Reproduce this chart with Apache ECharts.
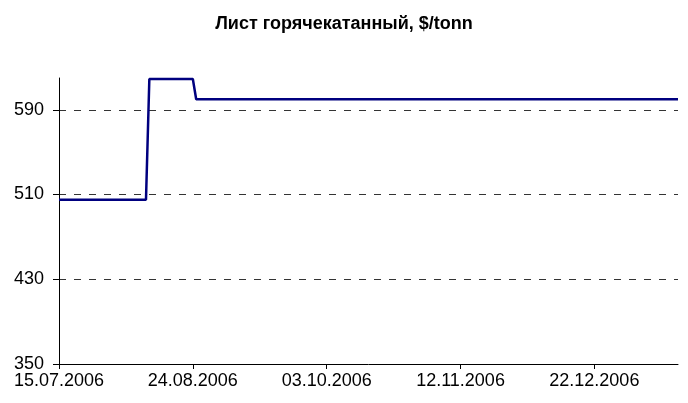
<!DOCTYPE html>
<html>
<head>
<meta charset="utf-8">
<script src="https://cdn.jsdelivr.net/npm/echarts@6/dist/echarts.min.js"></script>
<style>
  html, body { margin: 0; padding: 0; background: #fff; }
  #chart { width: 688px; height: 403px; }
</style>
</head>
<body>
<div id="chart"></div>
<script>
// price points (year, month, day) -> $/tonn
let dates = [[2006, 7, 15], [2006, 8, 10], [2006, 8, 11], [2006, 8, 24], [2006, 8, 25], [2007, 1, 16]];
let prices = [505, 505, 619, 619, 600, 600];
let xTickDates = [[2006, 7, 15], [2006, 8, 24], [2006, 10, 3], [2006, 11, 12], [2006, 12, 22]];
let yTicks = [350, 430, 510, 590];

function toTs(d) {
    return new Date(d[0], d[1] - 1, d[2]).getTime();
}
function pad(n) {
    return n < 10 ? '0' + n : '' + n;
}

let seriesData = [];
for (let i = 0; i < dates.length; i++) {
    seriesData.push([toTs(dates[i]), prices[i]]);
}
let xTicks = xTickDates.map(toTs);
let font = '"Liberation Sans", Arial, sans-serif';

let chart = echarts.init(document.getElementById('chart'));
chart.setOption({
    animation: false,
    title: {
        text: 'Лист горячекатанный, $/tonn',
        left: 'center',
        top: 10,
        textStyle: {
            fontFamily: font,
            fontSize: 18,
            fontWeight: 'bold',
            color: '#000'
        }
    },
    grid: {
        left: 59,
        right: 10,
        top: 78,
        bottom: 39
    },
    xAxis: {
        type: 'value',
        min: toTs(dates[0]),
        max: toTs(dates[dates.length - 1]),
        splitLine: { show: false },
        axisLine: { show: true, onZero: false, lineStyle: { color: '#000', width: 1 } },
        axisTick: {
            show: true,
            customValues: xTicks,
            length: 5,
            lineStyle: { color: '#000' }
        },
        axisLabel: {
            customValues: xTicks,
            margin: 8,
            color: '#000',
            fontFamily: font,
            fontSize: 18,
            formatter: function (v) {
                let d = new Date(v);
                return pad(d.getDate()) + '.' + pad(d.getMonth() + 1) + '.' + d.getFullYear();
            }
        }
    },
    yAxis: {
        type: 'value',
        min: 350,
        max: 620,
        interval: 80,
        axisLine: { show: true, lineStyle: { color: '#000', width: 1 } },
        axisTick: {
            show: true,
            customValues: yTicks,
            length: 6,
            lineStyle: { color: '#000' }
        },
        axisLabel: {
            customValues: yTicks,
            margin: 15,
            color: '#000',
            fontFamily: font,
            fontSize: 18
        },
        splitLine: {
            show: true,
            lineStyle: { color: '#333', type: [7, 8], width: 1 }
        }
    },
    series: [
        {
            type: 'line',
            data: seriesData,
            showSymbol: false,
            lineStyle: { color: '#00007f', width: 2.5 },
            itemStyle: { color: '#00007f' }
        }
    ]
});
</script>
</body>
</html>
